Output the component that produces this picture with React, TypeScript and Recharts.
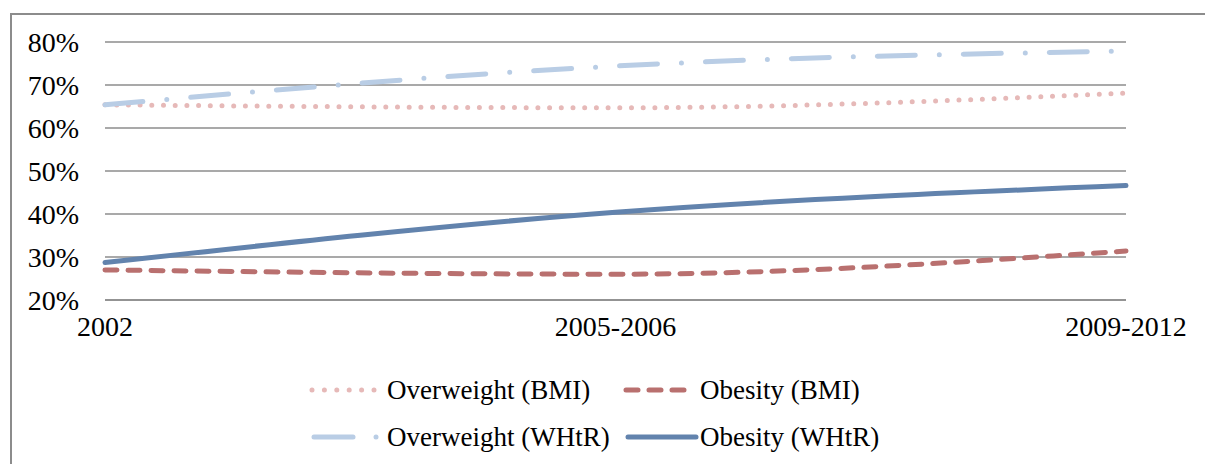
import React from "react";
import { LineChart, Line, XAxis, YAxis, CartesianGrid } from "recharts";

// values (percent)
const categories = ["2002", "2005-2006", "2009-2012"];
const overweightBMI = [65.4, 64.7, 68.1];
const obesityBMI = [27.0, 26.0, 31.4];
const overweightWHtR = [65.4, 74.4, 77.9];
const obesityWHtR = [28.7, 40.4, 46.6];
const yTicks = [20, 30, 40, 50, 60, 70, 80];

const series = [
  { key: "owBMI", name: "Overweight (BMI)", color: "#e6b9b8", dash: "0 11.7" },
  { key: "obBMI", name: "Obesity (BMI)", color: "#b9706f", dash: "12 11" },
  { key: "owWHtR", name: "Overweight (WHtR)", color: "#b9cde5", dash: "38 24 0 24" },
  { key: "obWHtR", name: "Obesity (WHtR)", color: "#6283ad", dash: undefined },
];

const data = categories.map((cat, i) => ({
  cat,
  owBMI: overweightBMI[i],
  obBMI: obesityBMI[i],
  owWHtR: overweightWHtR[i],
  obWHtR: obesityWHtR[i],
}));

const FONT = "'Liberation Serif', serif";
const GRID = "#8c8c8c";

function LegendIcon({ idx }: { idx: number }) {
  const s = series[idx];
  let line;
  if (idx === 0) line = <line x1={5} x2={67} y1={10} y2={10} strokeDasharray="0 12.4" />;
  else if (idx === 1) line = <line x1={4} x2={62} y1={10} y2={10} strokeDasharray="12 11" />;
  else if (idx === 2)
    line = (
      <>
        <line x1={7} x2={46} y1={10} y2={10} />
        <line x1={69} x2={69} y1={10} y2={10} />
      </>
    );
  else line = <line x1={6} x2={74} y1={10} y2={10} />;
  return (
    <svg width={80} height={20} style={{ display: "block" }}>
      <g stroke={s.color} strokeWidth={5} strokeLinecap="round" fill="none">
        {line}
      </g>
    </svg>
  );
}

function ChartLegend() {
  const pos = [
    { left: 307, top: 380, textLeft: 387 },
    { left: 622, top: 380, textLeft: 700 },
    { left: 307, top: 427, textLeft: 387 },
    { left: 622, top: 427, textLeft: 700 },
  ];
  return (
    <>
      {series.map((s, i) => (
        <div key={s.key}>
          <div style={{ position: "absolute", left: pos[i].left, top: pos[i].top }}>
            <LegendIcon idx={i} />
          </div>
          <div
            style={{
              position: "absolute",
              left: pos[i].textLeft,
              top: pos[i].top + 10,
              transform: "translateY(-50%)",
              fontFamily: FONT,
              fontSize: 27,
              color: "#000",
              whiteSpace: "nowrap",
              lineHeight: 1,
            }}
          >
            {s.name}
          </div>
        </div>
      ))}
    </>
  );
}

export default function App() {
  return (
    <div
      style={{
        position: "absolute",
        left: 0,
        top: 0,
        width: 1205,
        height: 464,
        background: "#fff",
        overflow: "hidden",
      }}
    >
      <div
        style={{
          position: "absolute",
          left: 10,
          top: 13,
          width: 1200,
          height: 470,
          borderTop: `2px solid ${GRID}`,
          borderLeft: `2px solid ${GRID}`,
        }}
      />
      <LineChart
        width={1205}
        height={464}
        data={data}
        margin={{ top: 42, right: 79, bottom: 124, left: 0 }}
      >
        <CartesianGrid vertical={false} stroke={GRID} strokeWidth={1.5} />
        <XAxis
          dataKey="cat"
          interval={0}
          padding={{ left: 0, right: 0 }}
          height={40}
          tickLine={false}
          tickSize={0}
          tickMargin={16}
          axisLine={{ stroke: GRID, strokeWidth: 1.5 }}
          tick={{ fill: "#000", fontFamily: FONT, fontSize: 28 }}
        />
        <YAxis
          width={105}
          domain={[20, 80]}
          ticks={yTicks}
          tickFormatter={(v) => `${v}%`}
          axisLine={false}
          tickLine={false}
          tickSize={0}
          tickMargin={26}
          tick={{ fill: "#000", fontFamily: FONT, fontSize: 28 }}
        />
        {series.map((s) => (
          <Line
            key={s.key}
            dataKey={s.key}
            name={s.name}
            type="monotone"
            stroke={s.color}
            strokeWidth={5}
            strokeLinecap="round"
            strokeDasharray={s.dash}
            dot={false}
            activeDot={false}
            isAnimationActive={false}
          />
        ))}
      </LineChart>
      <ChartLegend />
    </div>
  );
}
